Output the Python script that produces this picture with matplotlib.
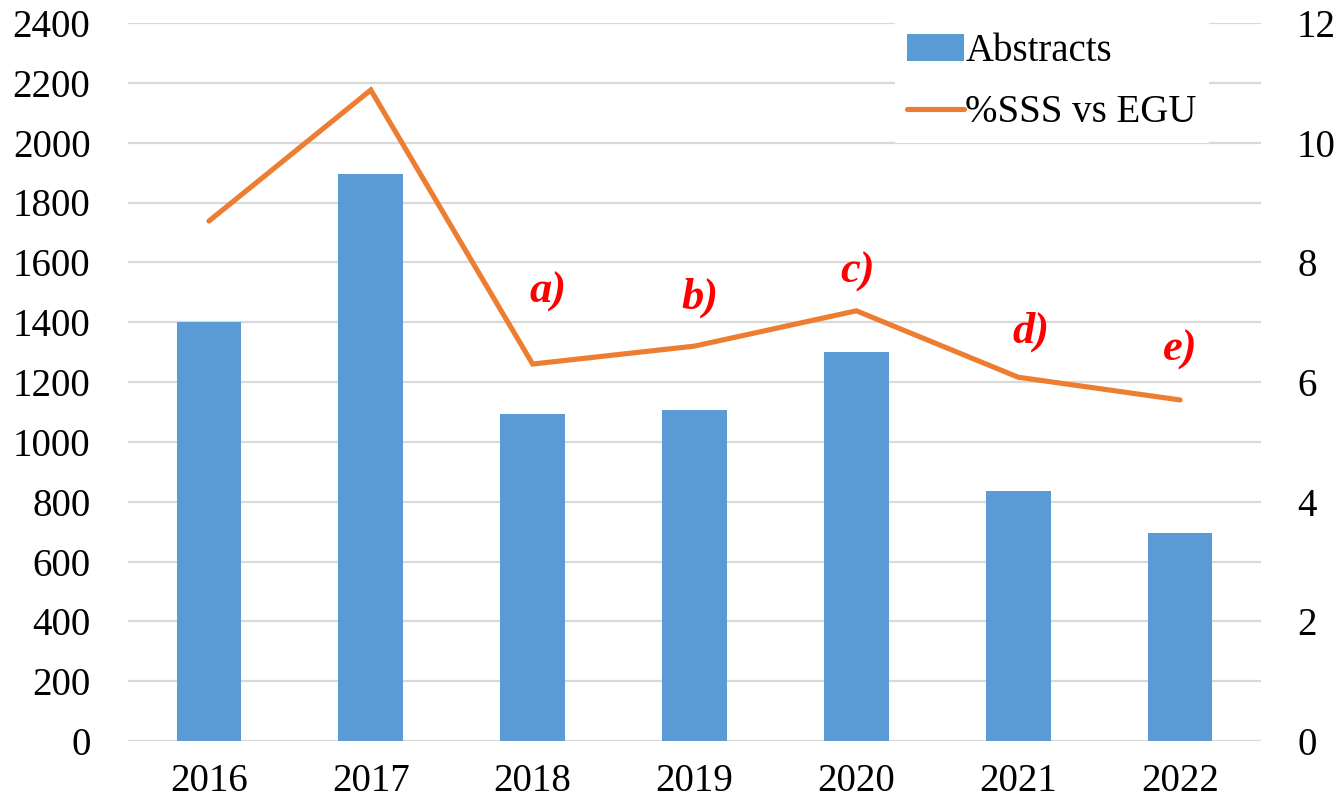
import matplotlib
matplotlib.use("Agg")
import matplotlib.pyplot as plt
import numpy as np

years = ["2016", "2017", "2018", "2019", "2020", "2021", "2022"]
abstracts = [1400, 1895, 1093, 1106, 1300, 836, 695]
pct_sss = [8.69, 10.88, 6.30, 6.60, 7.19, 6.08, 5.70]
notes = ["", "", "a)", "b)", "c)", "d)", "e)"]

BAR = "#5B9BD5"
LINE = "#ED7D31"
GRID = "#D9D9D9"
FONT = "Liberation Serif"

plt.rcParams["font.family"] = [FONT, "DejaVu Serif"]

fig = plt.figure(figsize=(13.39, 8.08), dpi=100)
ax = fig.add_axes([128 / 1339, 1 - 741 / 808, (1261 - 128) / 1339, (741 - 23) / 808])
x = np.arange(len(years))

ax.bar(x, abstracts, width=0.4, color=BAR, zorder=2, label="Abstracts")
ax.set_xlim(-0.5, len(years) - 0.5)
ax.set_ylim(0, 2400)
ax.set_yticks(np.arange(0, 2401, 200))
ax.grid(axis="y", color=GRID, linewidth=1.6, zorder=0)
ax.set_axisbelow(True)
ax.set_xticks(x)
ax.set_xticklabels(years)
for s in ax.spines.values():
    s.set_visible(False)
ax.tick_params(axis="both", length=0, labelsize=28)
ax.tick_params(axis="y", pad=27)
ax.tick_params(axis="x", pad=16)

ax2 = ax.twinx()
ax2.plot(x, pct_sss, color=LINE, linewidth=3.7, solid_capstyle="round",
         solid_joinstyle="miter", label="%SSS vs EGU", zorder=3)
ax2.set_ylim(0, 12)
ax2.set_yticks(np.arange(0, 13, 2))
for s in ax2.spines.values():
    s.set_visible(False)
ax2.tick_params(axis="y", length=0, labelsize=28, pad=26)

offsets = [(0, 0), (0, 0), (11, 52), (4, 35), (1, 28), (9, 33), (0, 36)]
for xi, yi, t, off in zip(x, pct_sss, notes, offsets):
    if t:
        ax2.annotate(t, (xi, yi), xytext=off, textcoords="offset points",
                     ha="center", va="center", color="red", fontsize=32,
                     fontweight="bold", fontstyle="italic", zorder=4)

h1, l1 = ax.get_legend_handles_labels()
h2, l2 = ax2.get_legend_handles_labels()
leg = ax2.legend(h1 + h2, l1 + l2, loc="upper left",
                 bbox_to_anchor=(876 / 1339, 1 - 2 / 808),
                 bbox_transform=fig.transFigure, fontsize=28, frameon=True,
                 facecolor="white", edgecolor="none", framealpha=1,
                 handlelength=1.45, handletextpad=0.05, labelspacing=0.62,
                 borderpad=0.3, fancybox=False)
leg.set_zorder(10)

fig.savefig("out.png", dpi=100)
